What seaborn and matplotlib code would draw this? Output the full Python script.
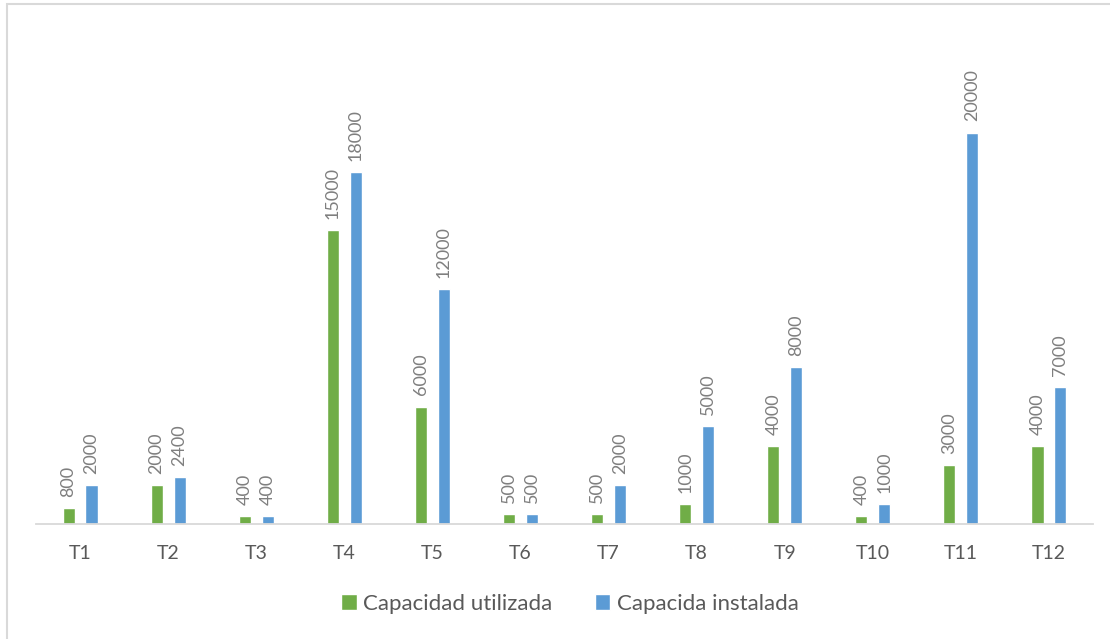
import matplotlib
matplotlib.use("Agg")
import matplotlib.pyplot as plt
import seaborn as sns
import pandas as pd
from matplotlib.patches import Rectangle

# Data
categories = ["T1", "T2", "T3", "T4", "T5", "T6", "T7", "T8", "T9", "T10", "T11", "T12"]
utilizada = [800, 2000, 400, 15000, 6000, 500, 500, 1000, 4000, 400, 3000, 4000]
instalada = [2000, 2400, 400, 18000, 12000, 500, 2000, 5000, 8000, 1000, 20000, 7000]
series_names = ["Capacidad utilizada", "Capacida instalada"]
colors = ["#70AD47", "#5B9BD5"]

df = pd.DataFrame({
    "cat": categories * 2,
    "valor": utilizada + instalada,
    "serie": [series_names[0]] * len(categories) + [series_names[1]] * len(categories),
})

sns.set_theme(style="white")
plt.rcParams["font.family"] = ["Lato", "DejaVu Sans"]

W, H = 1110, 639
fig = plt.figure(figsize=(W / 100, H / 100), dpi=100)
left_px, right_px, base_px = 36, 1093, 524
ymax = 24000
px_per_unit = 0.01957
top_px = base_px - ymax * px_per_unit
ax = fig.add_axes([left_px / W, (H - base_px) / H, (right_px - left_px) / W, (base_px - top_px) / H])

sns.barplot(data=df, x="cat", y="valor", hue="serie", palette=colors,
            saturation=1, width=0.52, gap=0.47, ax=ax, legend=True)

ax.set_ylim(0, ymax)
ax.set_xlim(-0.5, len(categories) - 0.5)
ax.set_xlabel("")
ax.set_ylabel("")
ax.set_yticks([])
for s in ["top", "right", "left"]:
    ax.spines[s].set_visible(False)
ax.spines["bottom"].set_color("#D9D9D9")
ax.spines["bottom"].set_linewidth(1.3)
ax.tick_params(axis="x", length=0, pad=15, labelsize=14, labelcolor="#595959")

for cont in ax.containers:
    for bar in cont:
        h = bar.get_height()
        ax.annotate(f"{int(h)}", (bar.get_x() + bar.get_width() / 2, h),
                    xytext=(0, 8), textcoords="offset points",
                    rotation=90, ha="center", va="bottom",
                    fontsize=13, color="#7F7F7F", annotation_clip=False)

leg = ax.legend(loc="center", bbox_to_anchor=(570 / W, (H - 604) / H),
                bbox_transform=fig.transFigure, ncol=2, frameon=False,
                fontsize=16, handlelength=0.7, handleheight=0.7,
                handletextpad=0.3, columnspacing=1.9)
for t in leg.get_texts():
    t.set_color("#595959")

# Chart area border
fig.patches.append(Rectangle((6.5 / W, -0.1), 1.2, (H - 4.5) / H + 0.1,
                             transform=fig.transFigure, fill=False,
                             edgecolor="#D9D9D9", linewidth=1.5))

fig.savefig("out.png", dpi=100, facecolor="white")
